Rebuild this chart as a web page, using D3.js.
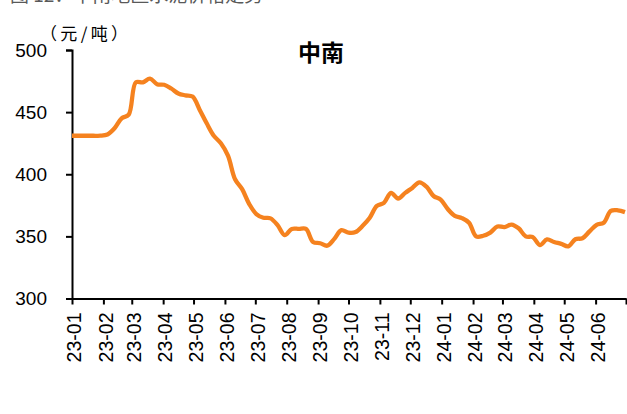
<!DOCTYPE html>
<html>
<head>
<meta charset="utf-8">
<script src="https://cdn.jsdelivr.net/npm/d3@7"></script>
<style>
  body { margin: 0; background: #fff; }
  svg { display: block; }
</style>
</head>
<body>
<script>
var w = 627;
var h = 414;

// Weekly price, starting 2023-01-01 (yuan / ton)
var startDate = "2023-01-01";
var prices = [
  431, 431, 431, 431, 431, 432, 437, 445, 448, 474,
  474, 477, 472.5, 472, 469, 465, 463.5, 462.5, 452, 441,
  431, 425, 415, 396, 388, 376, 368, 365, 364.5, 359,
  351, 356, 356, 356, 345.5, 344.5, 342.5, 348, 355, 353,
  353.5, 358.5, 365, 374.5, 377, 385, 380.5, 385, 389, 393.5,
  390, 382.5, 379.5, 372, 366.5, 364.7, 361, 350, 350.5, 353,
  358, 357.5, 359.5, 356.5, 350, 349.4, 343, 347.5, 345.5, 344,
  342, 347.7, 348.5, 354, 359.3, 361, 370.5, 371, 369.5
];

// Month tick labels
var monthLabels = ["23-01", "23-02", "23-03", "23-04", "23-05", "23-06",
  "23-07", "23-08", "23-09", "23-10", "23-11", "23-12",
  "24-01", "24-02", "24-03", "24-04", "24-05", "24-06"];
var yTicks = [300, 350, 400, 450, 500];

var parse = d3.timeParse("%Y-%m-%d");
var t0 = parse(startDate);
var data = prices.map(function(v, i) {
  return { date: d3.timeDay.offset(t0, i * 7), value: v };
});

var svg = d3.select("body")
  .append("svg")
  .attr("width", w)
  .attr("height", h);

var x = d3.scaleTime()
  .domain([new Date(2023, 0, 1), new Date(2024, 6, 1)])
  .range([72, 626]);

var y = d3.scaleLinear()
  .domain([300, 500])
  .range([298.5, 50]);

// cut-off caption at the very top
svg.append("text")
  .attr("x", 10)
  .attr("y", 1.5)
  .style("font-family", "'Noto Sans CJK SC', sans-serif")
  .style("font-size", "19px")
  .style("fill", "#595959")
  .text("图 12：中南地区水泥价格走势");

// y axis
var yAxis = svg.append("g")
  .attr("transform", "translate(72,0)")
  .call(d3.axisLeft(y).tickValues(yTicks).tickSize(6).tickPadding(19));
yAxis.select(".domain").attr("stroke", "#000").attr("stroke-width", 2);
yAxis.selectAll(".tick line").attr("stroke", "#000").attr("stroke-width", 2);
yAxis.selectAll("text")
  .style("font-family", "'Liberation Sans', Arial, sans-serif")
  .style("font-size", "19px")
  .attr("fill", "#000");

// x axis
var monthTicks = d3.timeMonth.range(new Date(2023, 0, 1), new Date(2024, 6, 2));
var xAxis = svg.append("g")
  .attr("transform", "translate(0,298.5)")
  .call(d3.axisBottom(x).tickValues(monthTicks).tickSize(6).tickSizeOuter(0)
    .tickFormat(function(d, i) { return monthLabels[i] || ""; }));
xAxis.select(".domain").attr("stroke", "#000").attr("stroke-width", 2);
xAxis.selectAll(".tick line").attr("stroke", "#000").attr("stroke-width", 2);
xAxis.selectAll("text")
  .style("font-family", "'Liberation Sans', Arial, sans-serif")
  .style("font-size", "19.5px")
  .attr("fill", "#000")
  .attr("transform", "rotate(-90)")
  .attr("x", -14)
  .attr("y", 0)
  .attr("dy", "0.45em")
  .style("text-anchor", "end");

// the price line
var line = d3.line()
  .x(function(d) { return x(d.date); })
  .y(function(d) { return y(d.value); })
  .curve(d3.curveCatmullRom.alpha(0.5));

svg.append("path")
  .datum(data)
  .attr("d", line)
  .attr("fill", "none")
  .attr("stroke", "#F5821F")
  .attr("stroke-width", 4.3)
  .attr("stroke-linejoin", "round");

// unit
svg.append("text")
  .attr("x", 40)
  .attr("y", 40)
  .attr("textLength", 88)
  .attr("lengthAdjust", "spacing")
  .style("font-family", "'Noto Sans CJK SC', sans-serif")
  .style("font-size", "17px")
  .style("fill", "#000")
  .text("（元/吨）");

// title
svg.append("text")
  .attr("x", 321)
  .attr("y", 60.5)
  .attr("text-anchor", "middle")
  .style("font-family", "'Noto Sans CJK SC', sans-serif")
  .style("font-size", "23px")
  .style("font-weight", "bold")
  .style("fill", "#000")
  .text("中南");
</script>
</body>
</html>
